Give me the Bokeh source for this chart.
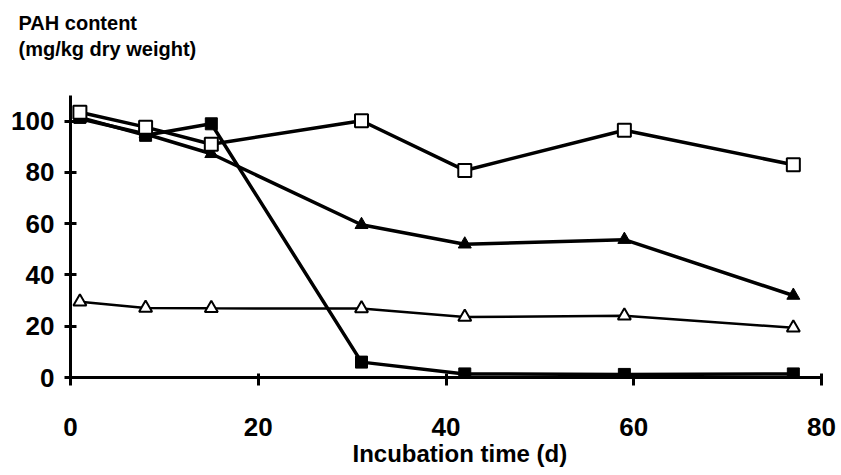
from bokeh.plotting import figure
from bokeh.models import Title, FixedTicker
from bokeh.embed import file_html
from bokeh.resources import INLINE

days = [1, 8, 15, 31, 42, 59, 77]
open_squares = [103.5, 97.7, 91.0, 100.2, 80.8, 96.5, 83.0]
filled_triangles = [101.0, 95.0, 87.3, 59.6, 52.0, 53.8, 32.0]
filled_squares = [101.5, 94.5, 99.0, 6.0, 1.4, 1.2, 1.4]
open_triangles = [29.6, 27.1, 27.0, 26.9, 23.6, 24.1, 19.4]

x_ticks = [0, 20, 40, 60, 80]
y_ticks = [0, 20, 40, 60, 80, 100]

title_text = "PAH content\n(mg/kg dry weight)"
x_title = "Incubation time (d)"

FONT = "Liberation Sans"

p = figure(width=838, height=472, output_backend="svg", toolbar_location=None,
           title=None, x_range=(0, 80), y_range=(0, 123.7),
           min_border_left=70, min_border_right=17, min_border_top=60, min_border_bottom=95)
p.outline_line_color = None
p.xgrid.visible = False
p.ygrid.visible = False
p.background_fill_color = "white"
p.border_fill_color = "white"

for ax in (p.xaxis[0], p.yaxis[0]):
    ax.axis_line_width = 3
    ax.axis_line_color = "black"
    ax.major_tick_line_width = 3
    ax.major_tick_line_color = "black"
    ax.minor_tick_line_color = None
    ax.major_label_text_font = FONT
    ax.major_label_text_font_style = "bold"
    ax.major_label_text_font_size = "26px"
    ax.major_label_text_color = "black"

p.yaxis[0].bounds = (0, 110)
p.xaxis[0].ticker = FixedTicker(ticks=x_ticks)
p.yaxis[0].ticker = FixedTicker(ticks=y_ticks)
p.xaxis[0].major_tick_in = 4
p.xaxis[0].major_tick_out = 8
p.yaxis[0].major_tick_in = 6
p.yaxis[0].major_tick_out = 6
p.xaxis[0].major_label_standoff = 32
p.yaxis[0].major_label_standoff = 10

# lines
p.line(days, open_triangles, line_color="black", line_width=2.5)
p.line(days, filled_squares, line_color="black", line_width=3.5)
p.line(days, filled_triangles, line_color="black", line_width=3.5)
p.line(days, open_squares, line_color="black", line_width=3.5)

# markers
p.scatter(days, open_triangles, marker="triangle", size=13, fill_color="white",
          line_color="black", line_width=2)
p.scatter(days, filled_squares, marker="square", size=12, fill_color="black",
          line_color="black", line_width=1)
p.scatter(days, filled_triangles, marker="triangle", size=13, fill_color="black",
          line_color="black", line_width=1)
p.scatter(days, open_squares, marker="square", size=13, fill_color="white",
          line_color="black", line_width=2)

# titles
p.add_layout(Title(text=title_text, align="left", offset=-52, standoff=0,
                   text_font=FONT, text_font_style="bold",
                   text_font_size="20px", text_line_height=1.2,
                   text_color="black"), "above")
p.add_layout(Title(text=x_title, align="left", offset=282, standoff=-2,
                   text_font=FONT, text_font_style="bold", text_font_size="24px",
                   text_color="black"), "below")

open("out.html", "w").write(file_html(p, INLINE))
